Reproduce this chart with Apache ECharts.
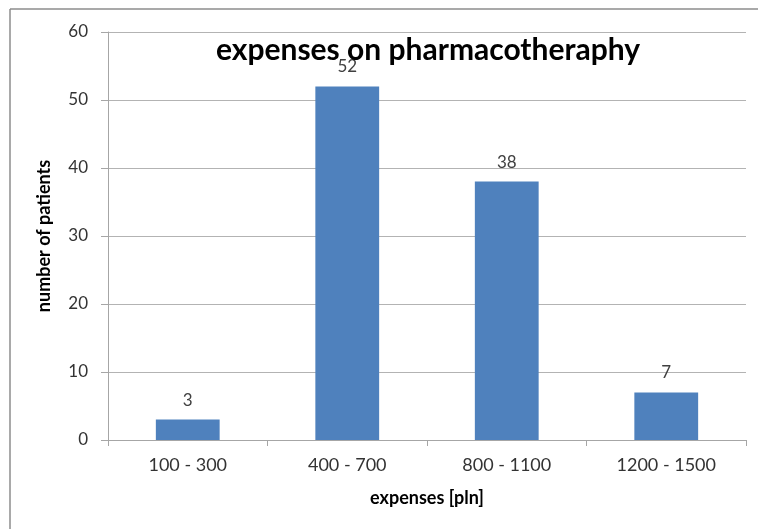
<!DOCTYPE html>
<html>
<head>
<meta charset="utf-8">
<style>
html,body{margin:0;padding:0;background:#fff;}
#c{width:758px;height:529px;}
</style>
<script src="https://cdn.jsdelivr.net/npm/echarts@6/dist/echarts.min.js"></script>
</head>
<body>
<div id="c"></div>
<script>
const categories = ['100 - 300', '400 - 700', '800 - 1100', '1200 - 1500'];
const patients = [3, 52, 38, 7];
const titleText = 'expenses on pharmacotheraphy';
const xName = 'expenses [pln]';
const yName = 'number of patients';

const chart = echarts.init(document.getElementById('c'));
const font = 'Lato, "Open Sans", sans-serif';
chart.setOption({
  animation: false,
  backgroundColor: '#fff',
  title: {
    text: titleText,
    left: 423, top: 30, textAlign: 'center',
    textStyle: {fontFamily: font, fontSize: 30, fontWeight: 'bold', color: '#000'}
  },
  graphic: [
    {type: 'line', shape: {x1: 10, y1: 9, x2: 758, y2: 9}, style: {stroke: '#8c8c8c', lineWidth: 1.5}},
    {type: 'line', shape: {x1: 10, y1: 9, x2: 10, y2: 529}, style: {stroke: '#8c8c8c', lineWidth: 1.5}}
  ],
  grid: {left: 108, right: 12, top: 32, bottom: 89, containLabel: false},
  xAxis: {
    type: 'category', data: categories,
    name: xName, nameLocation: 'middle', nameGap: 49,
    nameTextStyle: {fontFamily: font, fontSize: 18, fontWeight: 'bold', color: '#000'},
    axisLine: {lineStyle: {color: '#a6a6a6'}},
    axisTick: {show: true, length: 6, lineStyle: {color: '#a6a6a6'}},
    axisLabel: {fontFamily: font, fontSize: 18, color: '#333', margin: 16}
  },
  yAxis: {
    type: 'value', min: 0, max: 60, interval: 10,
    name: yName, nameLocation: 'middle', nameGap: 55,
    nameTextStyle: {fontFamily: font, fontSize: 18, fontWeight: 'bold', color: '#000'},
    axisLine: {show: true, lineStyle: {color: '#a6a6a6'}},
    axisTick: {show: true, length: 7, lineStyle: {color: '#a6a6a6'}},
    axisLabel: {fontFamily: font, fontSize: 17, color: '#333', margin: 20},
    splitLine: {lineStyle: {color: '#b3b3b3'}}
  },
  series: [{
    type: 'bar', data: patients, barWidth: '40%',
    itemStyle: {color: '#4f81bd'},
    label: {show: true, position: 'top', distance: 11, fontFamily: font, fontSize: 17, color: '#404040'}
  }]
});
</script>
</body>
</html>
